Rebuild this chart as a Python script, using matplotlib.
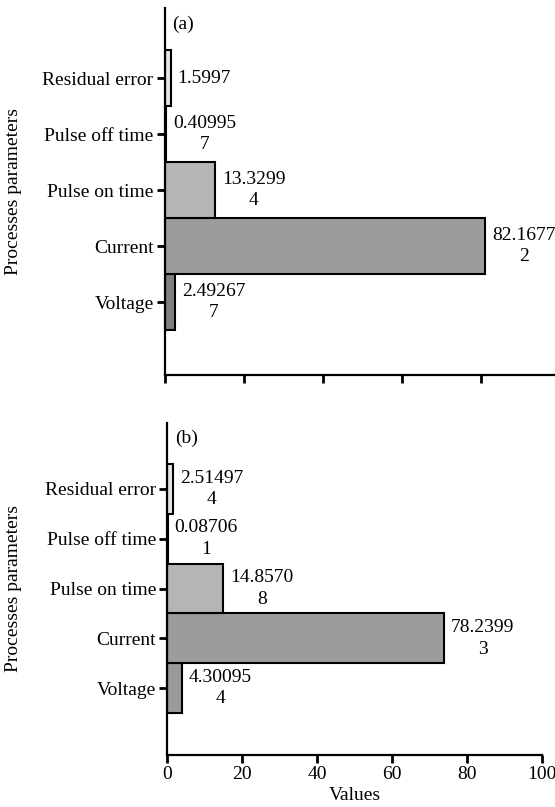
import matplotlib
matplotlib.use('Agg')
import matplotlib.pyplot as plt

plt.rcParams['font.family'] = ['Liberation Serif', 'DejaVu Serif']
plt.rcParams['font.size'] = 14

# categories, bottom to top
params = ['Voltage', 'Current', 'Pulse on time', 'Pulse off time', 'Residual error']

# bar lengths as drawn in the picture
bars_a = [2.6, 81.2, 12.8, 0.41, 1.5]
bars_b = [3.9, 73.9, 15.0, 0.09, 1.45]

# printed labels
labels_a = ['2.492677', '82.16772', '13.32994', '0.409957', '1.5997']
labels_b = ['4.300954', '78.23993', '14.85708', '0.087061', '2.514974']

colors_a = ['#808080', '#9c9c9c', '#b5b5b5', '#d0d0d0', '#e6e6e6']
colors_b = ['#9a9a9a', '#9c9c9c', '#b5b5b5', '#d0d0d0', '#e6e6e6']

xticks = [0, 20, 40, 60, 80, 100]

W, H = 555, 807
fig = plt.figure(figsize=(W / 100, H / 100), dpi=100)


def wrap(s, n=7):
    # the original wraps long numbers after 7 characters
    if len(s) <= n:
        return s
    return s[:n] + '\n' + s[n:]


def panel(rect, bars, labels, colors, tag, ylim, show_xlabels):
    ax = fig.add_axes(rect)
    y = list(range(len(params)))
    ax.barh(y, bars, height=1.0, color=colors, edgecolor='black', linewidth=1.5)
    for yi, b, lab in zip(y, bars, labels):
        ax.annotate(wrap(lab), (b, yi), xytext=(5, 0), textcoords='offset points',
                    ha='left', va='center', multialignment='center',
                    linespacing=1.35)
    ax.set_yticks(y)
    ax.set_yticklabels(params)
    ax.set_xticks(xticks)
    ax.set_xlim(0, 100)
    ax.set_ylim(*ylim)
    for s in ['top', 'right']:
        ax.spines[s].set_visible(False)
    for s in ['left', 'bottom']:
        ax.spines[s].set_linewidth(1.6)
    ax.tick_params(axis='both', direction='out', width=2, length=6, pad=2)
    if show_xlabels:
        ax.set_xlabel('Values', labelpad=3)
    else:
        ax.set_xticklabels([])
    ax.set_ylabel('Processes parameters')
    ax.text(0.02, 0.955, tag, transform=ax.transAxes, ha='left', va='center')
    return ax


def rect(left, right, top, bottom):
    return [left / W, 1 - bottom / H, (right - left) / W, (bottom - top) / H]


ax_a = panel(rect(164.7, 559.7, 8, 375), bars_a, labels_a, colors_a, '(a)',
             (-1.3, 5.25), False)
ax_b = panel(rect(167.3, 541.7, 423, 755), bars_b, labels_b, colors_b, '(b)',
             (-1.34, 5.32), True)

# both y labels sit at the same x
ax_a.yaxis.set_label_coords(-(164.7 - 22) / 395, 0.5)
ax_b.yaxis.set_label_coords(-(167.3 - 22) / 374.4, 0.5)

fig.savefig('out.png', dpi=100)
